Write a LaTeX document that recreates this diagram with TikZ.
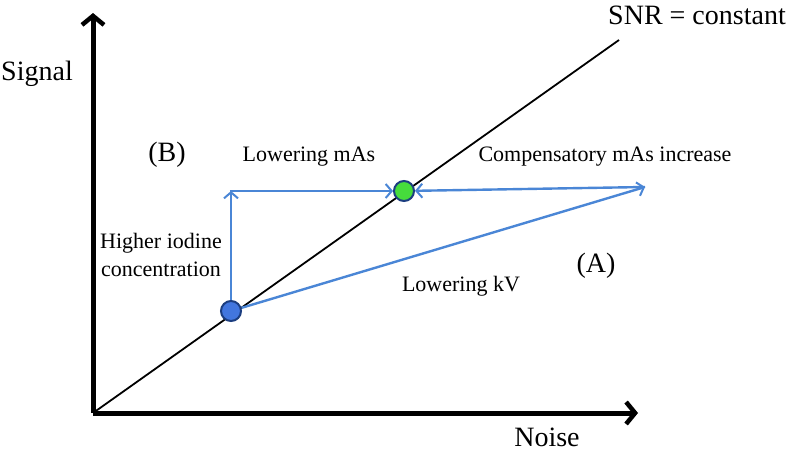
\documentclass[tikz,border=0pt]{standalone}
\usepackage{fontspec}
\setmainfont{Liberation Serif}
\usetikzlibrary{arrows.meta}
\definecolor{arrowblue}{RGB}{74,134,214}
\definecolor{dotblue}{RGB}{66,118,222}
\definecolor{dotedge}{RGB}{28,62,128}
\definecolor{dotgreen}{RGB}{70,220,60}
\tikzset{
  axis/.style={line width=5pt,-{Straight Barb[length=9pt,width=22pt,line width=4.5pt]}},
  change/.style={arrowblue,line width=2.4pt,-{Straight Barb[length=6pt,width=14pt,line width=2pt]}},
  dot/.style={circle,draw=dotedge,line width=2pt,minimum size=20pt,inner sep=0pt},
  big/.style={font=\fontsize{28}{32}\selectfont,inner sep=0pt},
  small/.style={font=\fontsize{22}{28}\selectfont,inner sep=0pt,align=center}
}
\begin{document}
\begin{tikzpicture}[x=1pt,y=-1pt]
\useasboundingbox[fill=white] (0,0) rectangle (789,453);
\coordinate (o) at (93,413);
\coordinate (ytip) at (93,13);
\coordinate (xtip) at (638,413);
\coordinate (dend) at (619,40);
\coordinate (corner) at (231,191);
\coordinate (right) at (645,187);
% SNR line
\draw[line width=1.8pt] (o) -- (dend);
% axes
\draw[axis] (o) -- (ytip);
\draw[axis] (o) -- (xtip);
% dots
\node[dot,fill=dotblue] (b) at (231,311) {};
\node[dot,fill=dotgreen] (g) at (404,191) {};
% blue arrows
\draw[change] (b) -- (corner);
\draw[change,shorten <=-1.2pt] (corner) -- (g);
\draw[change] (right) -- (g);
\draw[change] (b) -- (right);
% texts
\node[big] (snr) at (697,15) {SNR = constant};
\node[big] (sig) at (37,74) {Signal};
\node[big] (noi) at (547,437) {Noise};
\node[big] (lb) at (167,155) {(B)};
\node[big] (la) at (596,266) {(A)};
\node[small] (lmas) at (309,157) {Lowering mAs};
\node[small] (cmas) at (605,157) {Compensatory mAs increase};
\node[small] (hic) at (161,255) {Higher iodine\\concentration};
\node[small] (lkv) at (461,286) {Lowering kV};
\end{tikzpicture}
\end{document}
